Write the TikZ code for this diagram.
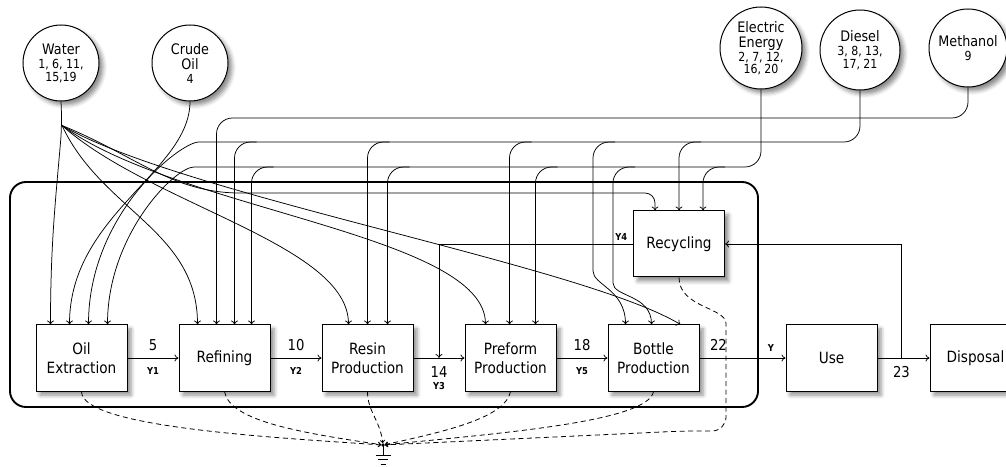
\documentclass[tikz,border=0pt]{standalone}
\usepackage{fontspec}
\setmainfont{DejaVu Sans}[FakeStretch=0.88]
\usetikzlibrary{positioning,calc,arrows.meta,shadows.blur}
\tikzset{FLOW/.style={line width=0.75pt, rounded corners=16pt, -{To[length=4pt,width=7pt]}}}
\tikzset{LOSS/.style={line width=0.8pt, dash pattern=on 5pt off 3.5pt, -{To[length=3pt,width=5pt]}}}
\tikzset{SHADE/.style={blur shadow={shadow xshift=4pt, shadow yshift=-4pt, shadow blur radius=4pt, shadow opacity=45}}}
\tikzset{PROC/.style={rectangle, draw, line width=1pt, fill=white, SHADE, minimum width=91pt, minimum height=66pt, align=center, font=\fontsize{15.5}{19.5}\selectfont}}
\tikzset{SRC/.style={circle, draw, line width=1pt, fill=white, SHADE, inner sep=0pt, align=center, font=\fontsize{14.5}{15.5}\selectfont}}
\tikzset{FRAME/.style={rectangle, draw, line width=1.9pt, rounded corners=16pt, minimum width=748pt, minimum height=225pt}}
\tikzset{NUM/.style={font=\fontsize{15}{15}\selectfont, inner sep=1pt}}
\tikzset{YLAB/.style={font=\fontsize{9.5}{10}\selectfont\bfseries, inner sep=1pt}}
\newcommand{\flownums}[1]{{\fontsize{12.5}{13}\selectfont #1}}

\begin{document}
\begin{tikzpicture}[x=1pt, y=1pt]
    \useasboundingbox (0,0) rectangle (1006,466);
    \clip (0,0) rectangle (1006,466);
    \node[FRAME] (FRM) at (384,171.5) {};

    \node[PROC] (OE) at (81.5,108) {Oil\\Extraction};
    \node[PROC, right=51pt of OE] (REF) {Refining};
    \node[PROC, right=51pt of REF] (RES) {Resin\\Production};
    \node[PROC, right=51pt of RES] (PRE) {Preform\\Production};
    \node[PROC, right=51pt of PRE] (BOT) {Bottle\\Production};
    \node[PROC, right=86pt of BOT] (USE) {Use};
    \node[PROC, right=52pt of USE] (DIS) {Disposal};
    \node[PROC] (REC) at (679,222) {Recycling};

    \node[SRC, minimum size=76pt] (WAT) at (61,403) {Water\\[-1pt]\flownums{1, 6, 11,}\\[-3pt]\flownums{15,19}};
    \node[SRC, minimum size=76pt] (CRU) at (190,403) {Crude\\Oil\\[-2pt]\flownums{4}};
    \node[SRC, minimum size=82pt] (ELE) at (761,418) {Electric\\Energy\\[-2pt]\flownums{2, 7, 12,}\\[-3pt]\flownums{16, 20}};
    \node[SRC, minimum size=80pt] (DIE) at (860,416) {Diesel\\[-1pt]\flownums{3, 8, 13,}\\[-3pt]\flownums{17, 21}};
    \node[SRC, minimum size=78pt] (MET) at (968,418) {Methanol\\[-1pt]\flownums{9}};

    \foreach \o [count=\i] in {15,34,53,72} \coordinate (OE-\i) at ($(OE.north west)+(\o,0)$);
    \foreach \o [count=\i] in {19,38,56,73} \coordinate (REF-\i) at ($(REF.north west)+(\o,0)$);
    \foreach \o [count=\i] in {27,46,66} \coordinate (RES-\i) at ($(RES.north west)+(\o,0)$);
    \foreach \o [count=\i] in {21,45,71} \coordinate (PRE-\i) at ($(PRE.north west)+(\o,0)$);
    \foreach \o [count=\i] in {18,44,73} \coordinate (BOT-\i) at ($(BOT.north west)+(\o,0)$);
    \foreach \o [count=\i] in {22,46,70} \coordinate (REC-\i) at ($(REC.north west)+(\o,0)$);
    \coordinate (bMET) at (0,348);
    \coordinate (bDIE) at (0,324);
    \coordinate (bELE) at (0,299);
    \coordinate (bWAT) at (0,273);
    \coordinate (split) at ($(WAT.south)+(1,-24)$);

    \draw[FLOW] (WAT.south) -- (split) to[out=-95,in=90] (OE-1);
    \draw[FLOW] (split) to[out=-65,in=90] (REF-1);
    \draw[FLOW] (split) .. controls +(90,-80) and +(0,80) .. (RES-1);
    \draw[FLOW] (split) .. controls +(115,-85) and +(0,90) .. (PRE-1);
    \draw[FLOW] (split) .. controls +(120,-70) and +(-100,60) .. (BOT-3);
    \draw[FLOW, rounded corners=10pt] (split) to[out=-22,in=180] (250,273) -| (REC-1);

    \draw[FLOW] (CRU.south) .. controls +(0,-70) and +(0,110) .. (OE-2);

    \draw[FLOW] (DIE.south) |- (215,324) .. controls +(-35,0) and +(0,110) .. (OE-3);
    \foreach \t in {REF-3,RES-2,PRE-2,REC-2} \draw[FLOW] ($(\t |- bDIE)+(22,0)$) -- (\t |- bDIE) -- (\t);
    \draw[FLOW] (615,324) -- (593,324) -- (593,211) .. controls +(0,-30) and +(0,35) .. (BOT-1);

    \draw[FLOW] (ELE.south) |- (210,299) .. controls +(-35,0) and +(0,90) .. (OE-4);
    \foreach \t in {REF-4,RES-3,PRE-3,REC-3} \draw[FLOW] ($(\t |- bELE)+(22,0)$) -- (\t |- bELE) -- (\t);
    \draw[FLOW] (635,299) -- (613,299) -- (613,199) .. controls +(0,-30) and +(0,30) .. (BOT-2);

    \draw[FLOW] (MET.south) |- (REF-2 |- bMET) -- (REF-2);

    \draw[FLOW] (OE) -- (REF) node[midway, above=6pt, NUM] {5} node[midway, below=8pt, YLAB] {Y1};
    \draw[FLOW] (REF) -- (RES) node[midway, above=6pt, NUM] {10} node[midway, below=8pt, YLAB] {Y2};
    \draw[FLOW] (RES) -- (PRE) coordinate[pos=0.5] (J14);
    \node[NUM, below=7pt of J14] (L14) {14};
    \node[YLAB, below=3pt of L14] {Y3};
    \draw[FLOW] (PRE) -- (BOT) node[midway, above=6pt, NUM] {18} node[midway, below=8pt, YLAB] {Y5};
    \draw[FLOW] (BOT) -- (USE) node[pos=0.22, above=6pt, NUM] {22} node[pos=0.83, above=5pt, YLAB] {Y};
    \draw[FLOW] (USE) -- (DIS) coordinate[pos=0.46] (J23);
    \node[NUM, below=7pt of J23] {23};
    \draw[FLOW, rounded corners=0pt] (REC.west) -| (J14) node[pos=0.03, above=2pt, YLAB] {Y4};
    \draw[FLOW, rounded corners=0pt] (J23) |- (REC.east);

    \node[circle, fill, inner sep=1.3pt] (GND) at (383,21) {};
    \draw[LOSS] (OE.south) .. controls +(0,-35) and +(-120,8) .. (GND);
    \draw[LOSS] (REF.south) .. controls +(5,-30) and +(-80,12) .. (GND);
    \draw[LOSS] (RES.south) .. controls +(0,-20) and +(-3,25) .. (GND);
    \draw[LOSS] (PRE.south) .. controls +(-5,-25) and +(70,15) .. (GND);
    \draw[LOSS] (BOT.south) .. controls +(-5,-30) and +(120,12) .. (GND);
    \draw[LOSS, rounded corners=14pt] (REC.south) .. controls +(0,-30) and +(0,30) .. ($(REC.south)+(47,-60)$) |- ($(GND)+(300,14)$) -- (GND);
    \draw[line width=0.8pt] (GND.center) -- ++(0,-10);
    \foreach \w/\d in {7.5/10, 5/14.5, 2.5/19} \draw[line width=0.8pt] ($(GND.center)+(-\w,-\d)$) -- ++(2*\w,0);
\end{tikzpicture}
\end{document}
